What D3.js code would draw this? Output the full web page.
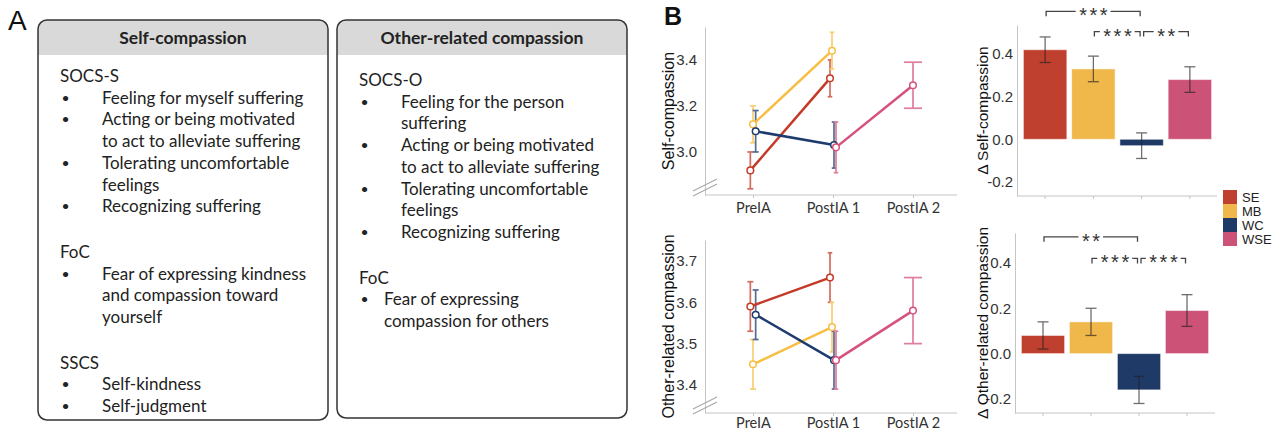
<!DOCTYPE html>
<html>
<head>
<meta charset="utf-8">
<script src="https://cdn.jsdelivr.net/npm/d3@7"></script>
<style>
  body { margin: 0; background: #fff; }
  svg { display: block; }
  .box text { font-family: Lato, 'Open Sans', sans-serif; fill: #222; }
  .chart text { font-family: 'Liberation Sans', Arial, sans-serif; }
</style>
</head>
<body>
<svg id="fig" width="1275" height="430"></svg>
<script>
// ---- data ----
var groups = ['SE', 'MB', 'WC', 'WSE']
var barColors = ['#c0402f', '#f0b74b', '#1f3a66', '#cc5277']
var lineColors = ['#c43a28', '#f8be44', '#1d3b6e', '#d6527c']
var times = ['PreIA', 'PostIA 1', 'PostIA 2']

var selfMean = [[2.92, 3.32, null], [3.12, 3.44, null], [3.09, 3.03, null], [null, 3.02, 3.29]]
var selfErr = [[0.08, 0.08, null], [0.08, 0.08, null], [0.09, 0.10, null], [null, 0.11, 0.10]]
var otherMean = [[3.59, 3.66, null], [3.45, 3.54, null], [3.57, 3.46, null], [null, 3.46, 3.58]]
var otherErr = [[0.06, 0.06, null], [0.06, 0.06, null], [0.06, 0.07, null], [null, 0.07, 0.08]]
var selfTicks = [3.0, 3.2, 3.4]
var otherTicks = [3.4, 3.5, 3.6, 3.7]

var selfDelta = [0.42, 0.33, -0.03, 0.28]
var selfDeltaErr = [0.06, 0.06, 0.06, 0.06]
var otherDelta = [0.08, 0.14, -0.16, 0.19]
var otherDeltaErr = [0.06, 0.06, 0.06, 0.07]
var deltaTicks = [-0.2, 0, 0.2, 0.4]

// [from, to, label, y value of bracket]
var selfSig = [['SE', 'WC', '***', 0.60], ['MB', 'WC', '***', 0.505], ['WC', 'WSE', '**', 0.505]]
var otherSig = [['SE', 'WC', '**', 0.515], ['MB', 'WC', '***', 0.42], ['WC', 'WSE', '***', 0.42]]

var selfItems = [
  ['h', 'SOCS-S'], ['b', 'Feeling for myself suffering'], ['b', 'Acting or being motivated'],
  ['c', 'to act to alleviate suffering'], ['b', 'Tolerating uncomfortable'], ['c', 'feelings'],
  ['b', 'Recognizing suffering'], ['gap'], ['h', 'FoC'], ['b', 'Fear of expressing kindness'],
  ['c', 'and compassion toward'], ['c', 'yourself'], ['gap'], ['h', 'SSCS'],
  ['b', 'Self-kindness'], ['b', 'Self-judgment']
]
var otherItems = [
  ['h', 'SOCS-O'], ['b', 'Feeling for the person'], ['c', 'suffering'], ['b', 'Acting or being motivated'],
  ['c', 'to act to alleviate suffering'], ['b', 'Tolerating uncomfortable'], ['c', 'feelings'],
  ['b', 'Recognizing suffering'], ['gap'], ['h', 'FoC'], ['b2', 'Fear of expressing'],
  ['c2', 'compassion for others']
]

var fmt = function(d) { return d3.format('.1f')(d).replace('−', '-') }

var svg = d3.select('#fig')
svg.append('rect').attr('width', 1275).attr('height', 430).attr('fill', '#fff')

// ---- panel A ----
svg.append('text').attr('x', 8).attr('y', 30).text('A')
  .style('font-family', "'Liberation Sans', Arial, sans-serif").style('font-size', '28px').attr('fill', '#111')

function drawBox(id, x, w, h, title, items, y0) {
  var g = svg.append('g').attr('class', 'box')
  g.append('clipPath').attr('id', id).append('rect')
    .attr('x', x).attr('y', 20).attr('width', w).attr('height', h).attr('rx', 9)
  g.append('rect').attr('x', x).attr('y', 20).attr('width', w).attr('height', h).attr('rx', 9).attr('fill', '#fff')
  g.append('rect').attr('x', x).attr('y', 20).attr('width', w).attr('height', 35)
    .attr('fill', '#d9d9d9').attr('clip-path', 'url(#' + id + ')')
  g.append('rect').attr('x', x).attr('y', 20).attr('width', w).attr('height', h).attr('rx', 9)
    .attr('fill', 'none').attr('stroke', '#333').attr('stroke-width', 1.5)
  g.append('text').attr('x', x + w / 2).attr('y', 44).attr('text-anchor', 'middle')
    .style('font-size', '17.5px').style('font-weight', 'bold').text(title)

  var y = y0
  items.forEach(function(d) {
    if (d[0] == 'gap') { y += 24; return }
    var k = d[0]
    var tx = k == 'h' ? x + 22 : (k == 'b2' || k == 'c2') ? x + 47 : x + 64
    if (k == 'b' || k == 'b2') {
      g.append('text').attr('x', x + 23.5).attr('y', y - 1).style('font-size', '14px').text('•')
    }
    g.append('text').attr('x', tx).attr('y', y).style('font-size', '17px').text(d[1])
    y += 21.7
  })
}

drawBox('clipA', 38, 290, 400, 'Self-compassion', selfItems, 82)
drawBox('clipB', 337, 290, 398, 'Other-related compassion', otherItems, 86)

// ---- panel B ----
svg.append('text').attr('x', 664).attr('y', 25).text('B')
  .style('font-family', "'Liberation Sans', Arial, sans-serif").style('font-size', '25px')
  .style('font-weight', 'bold').attr('fill', '#111')

var axisCol = '#c4c4c4'

function styleAxis(sel) {
  sel.selectAll('.domain').attr('stroke', axisCol)
  sel.selectAll('.tick line').attr('stroke', axisCol)
  sel.selectAll('.tick text').attr('fill', '#333').style('font-size', '15px')
}

function lineChart(means, errs, ticks, domain, top, bottom, title, labPad) {
  var g = svg.append('g').attr('class', 'chart')
  var left = 705, right = 957
  var x = d3.scalePoint().domain(times).range([713, 953]).padding(0.5)
  var y = d3.scaleLinear().domain(domain).range([bottom, top])

  g.append('g').attr('transform', 'translate(' + left + ',0)')
    .call(d3.axisLeft(y).tickValues(ticks).tickSize(0).tickSizeOuter(0).tickPadding(8).tickFormat(fmt))
    .call(styleAxis)
  var xa = g.append('g').attr('transform', 'translate(0,' + bottom + ')')
    .call(d3.axisBottom(x).tickSize(3).tickPadding(labPad))
    .call(styleAxis)
  xa.select('.domain').remove()
  xa.selectAll('.tick text').style('font-size', '14.5px').style('font-family', "Lato, 'Open Sans', sans-serif")
  g.append('line').attr('x1', left).attr('x2', right).attr('y1', bottom).attr('y2', bottom).attr('stroke', axisCol)

  // axis break marks
  ;[10, 5].forEach(function(o) {
    g.append('line').attr('x1', left - 12).attr('x2', left + 12)
      .attr('y1', bottom - o + 6).attr('y2', bottom - o - 6)
      .attr('stroke', '#a8a8a8').attr('stroke-width', 1.2)
  })

  g.append('text').attr('transform', 'translate(674,' + (top + bottom) / 2 + ') rotate(-90)')
    .attr('text-anchor', 'middle').style('font-size', '16px').attr('fill', '#111').text(title)

  // dodge positions
  var pts = []
  times.forEach(function(t, ti) {
    var present = groups.map(function(gr, gi) { return gi }).filter(function(gi) { return means[gi][ti] != null })
    var n = present.length
    present.forEach(function(gi, i) {
      pts.push({gi: gi, ti: ti, cx: x(t) + (i - (n - 1) / 2) * 8 / n, half: 9 / n,
        m: means[gi][ti], e: errs[gi][ti]})
    })
  })

  var eb = g.append('g').attr('opacity', 0.75)
  pts.forEach(function(p) {
    var c = lineColors[p.gi]
    var y1 = y(p.m + p.e), y2 = y(p.m - p.e)
    eb.append('line').attr('x1', p.cx).attr('x2', p.cx).attr('y1', y1).attr('y2', y2).attr('stroke', c).attr('stroke-width', 1.7)
    ;[y1, y2].forEach(function(yy) {
      eb.append('line').attr('x1', p.cx - p.half).attr('x2', p.cx + p.half).attr('y1', yy).attr('y2', yy)
        .attr('stroke', c).attr('stroke-width', 1.7)
    })
  })

  var line = d3.line().x(function(p) { return p.cx }).y(function(p) { return y(p.m) })
  groups.forEach(function(gr, gi) {
    g.append('path').attr('d', line(pts.filter(function(p) { return p.gi == gi })))
      .attr('fill', 'none').attr('stroke', lineColors[gi]).attr('stroke-width', 2.5)
  })

  g.selectAll('circle.pt').data(pts).enter().append('circle')
    .attr('cx', function(p) { return p.cx }).attr('cy', function(p) { return y(p.m) })
    .attr('r', 3.3).attr('fill', '#fff')
    .attr('stroke', function(p) { return lineColors[p.gi] }).attr('stroke-width', 1.5)
}

function barChart(vals, errs, sig, domain, left, right, top, bottom, range, title) {
  var g = svg.append('g').attr('class', 'chart')
  var x = d3.scaleBand().domain(groups).range(range).paddingInner(0.1).paddingOuter(0.05)
  var y = d3.scaleLinear().domain(domain).range([bottom, top])

  g.append('g').attr('transform', 'translate(' + left + ',0)')
    .call(d3.axisLeft(y).tickValues(deltaTicks).tickSize(0).tickSizeOuter(0).tickPadding(4).tickFormat(fmt))
    .call(styleAxis)
  var xa = g.append('g').attr('transform', 'translate(0,' + bottom + ')')
    .call(d3.axisBottom(x).tickSize(3).tickFormat(''))
    .call(styleAxis)
  xa.select('.domain').remove()
  g.append('line').attr('x1', left).attr('x2', right).attr('y1', bottom).attr('y2', bottom).attr('stroke', axisCol)

  g.append('text').attr('transform', 'translate(988,' + (top + bottom) / 2 + ') rotate(-90)')
    .attr('text-anchor', 'middle').style('font-size', '15.5px').attr('fill', '#111').text(title)

  g.selectAll('rect.bar').data(vals).enter().append('rect')
    .attr('x', function(d, i) { return x(groups[i]) })
    .attr('width', x.bandwidth())
    .attr('y', function(d) { return y(Math.max(0, d)) })
    .attr('height', function(d) { return Math.abs(y(d) - y(0)) })
    .attr('fill', function(d, i) { return barColors[i] })
    .attr('stroke', '#fff').attr('stroke-opacity', 0.5).attr('stroke-width', 1)

  var eb = g.append('g').attr('opacity', 0.65)
  vals.forEach(function(v, i) {
    var cx = x(groups[i]) + x.bandwidth() / 2
    var y1 = y(v + errs[i]), y2 = y(v - errs[i])
    eb.append('line').attr('x1', cx).attr('x2', cx).attr('y1', y1).attr('y2', y2).attr('stroke', '#222').attr('stroke-width', 1.3)
    ;[y1, y2].forEach(function(yy) {
      eb.append('line').attr('x1', cx - 5.5).attr('x2', cx + 5.5).attr('y1', yy).attr('y2', yy)
        .attr('stroke', '#222').attr('stroke-width', 1.3)
    })
  })

  // significance brackets
  sig.forEach(function(s) {
    var x1 = x(s[0]) + x.bandwidth() / 2 + 1, x2 = x(s[1]) + x.bandwidth() / 2 - 1.5
    if (s[0] == 'WC') x1 += 1
    var yy = y(s[3])
    var t = g.append('text').attr('x', (x1 + x2) / 2 + 1.5).attr('y', yy + 11).attr('text-anchor', 'middle')
      .style('font-size', '20px').style('letter-spacing', '2.5px').attr('fill', '#333').text(s[2])
    var w = t.node().getComputedTextLength()
    var mid = (x1 + x2) / 2
    var path = 'M' + x1 + ',' + (yy + 5) + 'V' + yy + 'H' + (mid - w / 2 - 2) +
      'M' + (mid + w / 2 + 2) + ',' + yy + 'H' + x2 + 'V' + (yy + 5)
    g.append('path').attr('d', path).attr('fill', 'none').attr('stroke', '#444').attr('stroke-width', 1.3)
  })
}

lineChart(selfMean, selfErr, selfTicks, [2.813, 3.543], 27, 195, 'Self-compassion', 5)
lineChart(otherMean, otherErr, otherTicks, [3.332, 3.751], 240, 413, 'Other-related compassion', 2)

barChart(selfDelta, selfDeltaErr, selfSig, [-0.266, 0.536], 1017, 1217, 25, 196, [1021, 1214], 'Δ Self-compassion')
barChart(otherDelta, otherDeltaErr, otherSig, [-0.262, 0.532], 1015, 1215, 233, 413, [1019, 1211], 'Δ Other-related compassion')

// legend
var lg = svg.append('g').attr('class', 'chart')
groups.forEach(function(gr, i) {
  lg.append('rect').attr('x', 1223).attr('y', 190 + i * 14).attr('width', 14).attr('height', 14).attr('fill', barColors[i])
  lg.append('text').attr('x', 1242).attr('y', 197 + i * 14).attr('dy', '0.35em')
    .style('font-size', '13px').attr('fill', '#222').text(gr)
})
</script>
</body>
</html>
